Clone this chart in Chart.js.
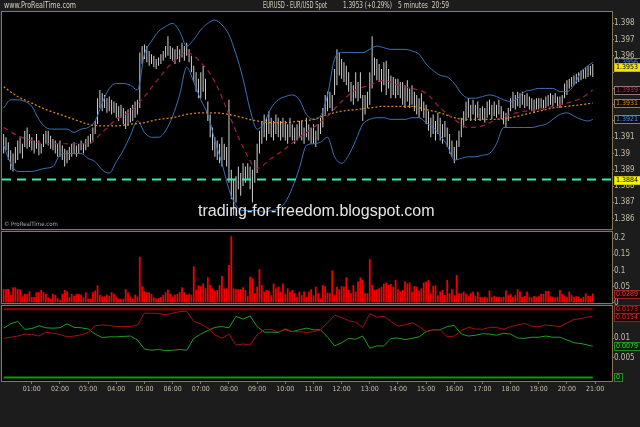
<!DOCTYPE html>
<html>
<head>
<meta charset="utf-8">
<script src="https://cdn.jsdelivr.net/npm/chart.js@4.4.1/dist/chart.umd.min.js"></script>
<style>
  body { margin: 0; background: #1c1c1c; }
  #wrap { position: relative; width: 640px; height: 427px; overflow: hidden; background: #1c1c1c;
          font-family: "Liberation Sans Narrow", "DejaVu Sans Condensed", sans-serif; }
  #wrap canvas { position: absolute; left: 0; top: 0; }
  .txt { position: absolute; top: 1px; white-space: pre; color: #d6cfbf; font-size: 8px; line-height: 10px;
         transform-origin: left top; }
  #mark { position: absolute; left: 198px; top: 203px; font: 16px "Liberation Sans", Arial, sans-serif;
          line-height: 16px; color: #e4e4e4; white-space: nowrap; }
  #copy { position: absolute; left: 4px; top: 220px; font-size: 6px; line-height: 8px; color: #a8a8a8; }
</style>
</head>
<body>
<div id="wrap">
  <canvas id="priceChart" width="640" height="427"></canvas>
  <canvas id="volChart" width="640" height="427"></canvas>
  <canvas id="dmiChart" width="640" height="427"></canvas>
  <div class="txt" style="left:4px" data-w="72">www.ProRealTime.com</div>
  <div class="txt" style="left:263px" data-w="64">EURUSD - EUR/USD Spot</div>
  <div class="txt" style="left:343px" data-w="49">1.3953 (+0.29%)</div>
  <div class="txt" style="left:398px" data-w="51">5 minutes  20:59</div>
  <div id="mark">trading-for-freedom.blogspot.com</div>
  <div id="copy">© ProRealTime.com</div>
</div>
<script>
// 5 minute bars from 00:00 to 20:55
const lows = [
  1.3900,1.3902,1.3896,1.3890,1.3889,1.3894,1.3896,1.3900,1.3897,1.3904,1.3903,1.3904,
  1.3902,1.3900,1.3903,1.3899,1.3900,1.3904,1.3906,1.3905,1.3903,1.3902,1.3900,1.3898,
  1.3898,1.3896,1.3892,1.3894,1.3896,1.3898,1.3900,1.3898,1.3900,1.3902,1.3900,1.3902,
  1.3904,1.3906,1.3908,1.3912,1.3918,1.3928,1.3926,1.3928,1.3925,1.3926,1.3924,1.3925,
  1.3922,1.3920,1.3922,1.3918,1.3915,1.3917,1.3919,1.3920,1.3922,1.3924,1.3928,1.3955,
  1.3958,1.3956,1.3954,1.3955,1.3953,1.3952,1.3954,1.3955,1.3957,1.3959,1.3960,1.3958,
  1.3957,1.3955,1.3958,1.3956,1.3959,1.3957,1.3960,1.3956,1.3950,1.3944,1.3938,1.3934,
  1.3934,1.3938,1.3933,1.3920,1.3910,1.3902,1.3898,1.3896,1.3894,1.3892,1.3896,1.3892,
  1.3882,1.3872,1.3862,1.3870,1.3878,1.3874,1.3880,1.3882,1.3884,1.3878,1.3870,1.3882,
  1.3888,1.3900,1.3906,1.3910,1.3908,1.3912,1.3910,1.3908,1.3912,1.3910,1.3908,1.3910,
  1.3908,1.3906,1.3910,1.3908,1.3906,1.3908,1.3910,1.3908,1.3906,1.3910,1.3908,1.3906,
  1.3906,1.3904,1.3908,1.3912,1.3916,1.3924,1.3926,1.3928,1.3926,1.3936,1.3942,1.3948,
  1.3946,1.3944,1.3942,1.3938,1.3932,1.3930,1.3934,1.3932,1.3934,1.3920,1.3924,1.3928,
  1.3930,1.3940,1.3948,1.3945,1.3944,1.3938,1.3942,1.3936,1.3940,1.3934,1.3936,1.3934,
  1.3936,1.3934,1.3930,1.3928,1.3932,1.3928,1.3930,1.3926,1.3924,1.3922,1.3926,1.3922,
  1.3918,1.3914,1.3910,1.3912,1.3908,1.3912,1.3908,1.3906,1.3910,1.3904,1.3900,1.3898,
  1.3894,1.3896,1.3904,1.3910,1.3916,1.3920,1.3922,1.3920,1.3924,1.3920,1.3922,1.3920,
  1.3921,1.3919,1.3922,1.3924,1.3921,1.3923,1.3922,1.3924,1.3921,1.3918,1.3916,1.3920,
  1.3926,1.3928,1.3927,1.3929,1.3928,1.3930,1.3928,1.3929,1.3927,1.3926,1.3925,1.3927,
  1.3927,1.3928,1.3927,1.3928,1.3929,1.3930,1.3929,1.3931,1.3929,1.3928,1.3930,1.3934,
  1.3936,1.3940,1.3941,1.3942,1.3943,1.3944,1.3945,1.3946,1.3946,1.3947,1.3948,1.3947
];
const highs = [
  1.3912,1.3910,1.3907,1.3902,1.3900,1.3904,1.3908,1.3910,1.3906,1.3914,1.3916,1.3912,
  1.3910,1.3908,1.3912,1.3908,1.3906,1.3912,1.3914,1.3914,1.3911,1.3909,1.3908,1.3906,
  1.3908,1.3905,1.3903,1.3902,1.3904,1.3906,1.3907,1.3905,1.3906,1.3908,1.3906,1.3909,
  1.3911,1.3912,1.3916,1.3920,1.3934,1.3939,1.3937,1.3936,1.3934,1.3935,1.3933,1.3932,
  1.3931,1.3929,1.3930,1.3928,1.3926,1.3927,1.3928,1.3930,1.3932,1.3933,1.3962,1.3966,
  1.3967,1.3966,1.3963,1.3961,1.3960,1.3958,1.3959,1.3961,1.3963,1.3966,1.3972,1.3966,
  1.3965,1.3964,1.3966,1.3964,1.3968,1.3966,1.3968,1.3964,1.3960,1.3954,1.3950,1.3946,
  1.3950,1.3954,1.3946,1.3932,1.3924,1.3916,1.3910,1.3908,1.3906,1.3910,1.3906,1.3904,
  1.3933,1.3890,1.3884,1.3886,1.3892,1.3888,1.3894,1.3892,1.3894,1.3892,1.3890,1.3896,
  1.3906,1.3914,1.3920,1.3924,1.3922,1.3926,1.3922,1.3920,1.3924,1.3922,1.3920,1.3922,
  1.3920,1.3918,1.3922,1.3918,1.3916,1.3918,1.3920,1.3920,1.3916,1.3922,1.3918,1.3916,
  1.3918,1.3914,1.3918,1.3922,1.3928,1.3936,1.3938,1.3938,1.3936,1.3952,1.3964,1.3962,
  1.3958,1.3956,1.3954,1.3950,1.3944,1.3942,1.3950,1.3944,1.3950,1.3936,1.3936,1.3938,
  1.3950,1.3972,1.3959,1.3958,1.3955,1.3952,1.3956,1.3957,1.3952,1.3948,1.3947,1.3946,
  1.3946,1.3944,1.3944,1.3942,1.3945,1.3940,1.3942,1.3938,1.3936,1.3934,1.3937,1.3932,
  1.3930,1.3926,1.3922,1.3924,1.3920,1.3925,1.3922,1.3918,1.3920,1.3916,1.3912,1.3908,
  1.3904,1.3908,1.3914,1.3922,1.3926,1.3932,1.3934,1.3930,1.3933,1.3930,1.3932,1.3928,
  1.3929,1.3928,1.3932,1.3933,1.3930,1.3932,1.3930,1.3933,1.3929,1.3926,1.3925,1.3928,
  1.3934,1.3938,1.3936,1.3938,1.3937,1.3938,1.3936,1.3937,1.3935,1.3934,1.3933,1.3934,
  1.3934,1.3934,1.3933,1.3935,1.3936,1.3937,1.3936,1.3937,1.3935,1.3935,1.3936,1.3943,
  1.3945,1.3946,1.3947,1.3948,1.3949,1.3950,1.3951,1.3952,1.3953,1.3954,1.3954,1.3955
];
const volumes = [
  0.043,0.043,0.043,0.025,0.048,0.048,0.043,0.041,0.020,0.028,0.028,0.036,
  0.018,0.018,0.033,0.033,0.040,0.033,0.028,0.017,0.013,0.028,0.025,0.015,
  0.010,0.028,0.040,0.036,0.018,0.028,0.022,0.028,0.028,0.025,0.017,0.033,
  0.013,0.013,0.033,0.038,0.054,0.025,0.020,0.020,0.025,0.022,0.033,0.028,
  0.020,0.013,0.013,0.013,0.043,0.033,0.020,0.013,0.025,0.020,0.142,0.051,
  0.036,0.033,0.033,0.028,0.017,0.013,0.015,0.018,0.025,0.033,0.041,0.028,
  0.020,0.025,0.028,0.033,0.048,0.033,0.025,0.028,0.025,0.113,0.041,0.054,
  0.052,0.060,0.045,0.079,0.055,0.045,0.038,0.040,0.055,0.083,0.045,0.045,
  0.117,0.206,0.045,0.042,0.042,0.042,0.048,0.040,0.021,0.081,0.076,0.030,
  0.050,0.104,0.055,0.035,0.040,0.038,0.024,0.060,0.045,0.050,0.035,0.060,
  0.028,0.045,0.035,0.040,0.030,0.019,0.035,0.024,0.035,0.019,0.035,0.042,
  0.024,0.050,0.030,0.014,0.055,0.052,0.032,0.030,0.100,0.024,0.050,0.042,
  0.052,0.050,0.079,0.040,0.030,0.055,0.035,0.066,0.079,0.071,0.030,0.030,
  0.135,0.055,0.040,0.042,0.045,0.050,0.060,0.063,0.055,0.058,0.050,0.071,
  0.042,0.035,0.040,0.066,0.060,0.063,0.035,0.052,0.050,0.038,0.045,0.063,
  0.066,0.071,0.030,0.052,0.055,0.024,0.035,0.040,0.024,0.071,0.030,0.042,
  0.024,0.086,0.030,0.030,0.035,0.028,0.021,0.030,0.035,0.021,0.035,0.019,
  0.017,0.019,0.017,0.038,0.019,0.021,0.019,0.019,0.017,0.019,0.038,0.024,
  0.028,0.019,0.024,0.042,0.035,0.019,0.021,0.035,0.019,0.017,0.021,0.019,
  0.021,0.028,0.028,0.037,0.037,0.021,0.019,0.017,0.019,0.040,0.028,0.021,
  0.019,0.035,0.024,0.019,0.021,0.019,0.014,0.019,0.030,0.021,0.021,0.0289
];

// bollinger bands and DMI lines, one reading per 15 minutes (last one at 20:55)
const upperBand = [
  1.3928,1.3933,1.3933,1.3932,1.3929,1.3921,1.3916,1.3915,1.3915,1.3915,
  1.3913,1.3915,1.3916,1.3920,1.3931,1.3940,1.3943,1.3943,1.3942,1.3939,
  1.3961,1.3969,1.3975,1.3978,1.3980,1.3975,1.3966,1.3970,1.3976,1.3980,
  1.3982,1.3979,1.3973,1.3961,1.3946,1.3927,1.3915,1.3919,1.3928,1.3933,
  1.3935,1.3936,1.3933,1.3924,1.3921,1.3923,1.3936,1.3958,1.3962,1.3962,
  1.3962,1.3962,1.3964,1.3966,1.3965,1.3964,1.3964,1.3964,1.3963,1.3961,
  1.3955,1.3951,1.3948,1.3947,1.3943,1.3937,1.3934,1.3934,1.3935,1.3936,
  1.3935,1.3933,1.3932,1.3934,1.3938,1.3939,1.3940,1.3940,1.3940,1.3938,
  1.3938,1.3942,1.3950,1.3954,1.3956
];
const lowerBand = [
  1.3905,1.3894,1.3889,1.3889,1.3889,1.3890,1.3891,1.3892,1.3899,1.3900,
  1.3900,1.3900,1.3897,1.3895,1.3890,1.3888,1.3895,1.3902,1.3911,1.3920,
  1.3913,1.3910,1.3910,1.3914,1.3923,1.3936,1.3953,1.3944,1.3933,1.3924,
  1.3908,1.3894,1.3878,1.3868,1.3865,1.3865,1.3865,1.3864,1.3865,1.3866,
  1.3870,1.3879,1.3891,1.3905,1.3906,1.3907,1.3910,1.3898,1.3894,1.3899,
  1.3908,1.3918,1.3921,1.3922,1.3922,1.3921,1.3921,1.3921,1.3922,1.3922,
  1.3919,1.3916,1.3911,1.3905,1.3896,1.3897,1.3898,1.3898,1.3899,1.3900,
  1.3906,1.3916,1.3916,1.3916,1.3916,1.3916,1.3917,1.3918,1.3921,1.3924,
  1.3925,1.3923,1.3921,1.3920,1.3921
];
const diPlus = [
  0.0099,0.0102,0.0105,0.0110,0.0109,0.0105,0.0115,0.0112,0.0109,0.0103,
  0.0105,0.0108,0.0114,0.0131,0.0133,0.0132,0.0129,0.0129,0.0129,0.0133,
  0.0163,0.0163,0.0162,0.0159,0.0163,0.0167,0.0168,0.0142,0.0136,0.0125,
  0.0108,0.0099,0.0110,0.0082,0.0085,0.0082,0.0108,0.0121,0.0122,0.0115,
  0.0121,0.0116,0.0116,0.0114,0.0116,0.0121,0.0139,0.0158,0.0152,0.0144,
  0.0140,0.0127,0.0162,0.0153,0.0155,0.0142,0.0130,0.0133,0.0139,0.0129,
  0.0116,0.0121,0.0121,0.0103,0.0105,0.0119,0.0127,0.0123,0.0122,0.0127,
  0.0127,0.0122,0.0129,0.0133,0.0137,0.0130,0.0129,0.0133,0.0131,0.0129,
  0.0138,0.0147,0.0149,0.0154,0.0154
];
const diMinus = [
  0.0125,0.0136,0.0142,0.0122,0.0124,0.0131,0.0126,0.0125,0.0126,0.0136,
  0.0127,0.0126,0.0123,0.0110,0.0101,0.0103,0.0103,0.0104,0.0105,0.0095,
  0.0072,0.0069,0.0071,0.0068,0.0069,0.0071,0.0069,0.0099,0.0110,0.0119,
  0.0127,0.0129,0.0126,0.0155,0.0148,0.0156,0.0129,0.0115,0.0115,0.0114,
  0.0123,0.0116,0.0121,0.0125,0.0121,0.0121,0.0102,0.0080,0.0088,0.0099,
  0.0097,0.0105,0.0074,0.0080,0.0080,0.0099,0.0100,0.0096,0.0099,0.0103,
  0.0116,0.0121,0.0121,0.0129,0.0132,0.0110,0.0105,0.0107,0.0111,0.0110,
  0.0107,0.0112,0.0110,0.0100,0.0099,0.0102,0.0102,0.0105,0.0102,0.0102,
  0.0095,0.0088,0.0086,0.0082,0.0079
];

// moving averages, one reading per 30 minutes (last one at 20:55)
const middleAvg = [
  1.3916,1.3911,1.3908,1.3906,1.3906,1.3906,1.3906,1.3913,1.3921,1.3926,
  1.3935,1.3946,1.3956,1.3962,1.3956,1.3944,1.3924,1.3904,1.3891,1.3897,
  1.3903,1.3910,1.3916,1.3923,1.3932,1.3939,1.3942,1.3945,1.3942,1.3940,
  1.3937,1.3928,1.3921,1.3916,1.3917,1.3921,1.3924,1.3926,1.3927,1.3929,
  1.3931,1.3934,1.3939
];
const slowAvg = [
  1.3941,1.3935,1.3931,1.3927,1.3924,1.3921,1.3918,1.3917,1.3917,1.3918,
  1.3919,1.3921,1.3922,1.3924,1.3925,1.3925,1.3924,1.3922,1.3920,1.3919,
  1.3919,1.3920,1.3921,1.3924,1.3926,1.3927,1.3928,1.3929,1.3929,1.3929,
  1.3927,1.3925,1.3922,1.3921,1.3921,1.3921,1.3922,1.3924,1.3926,1.3928,
  1.3929,1.3930,1.3931
];

const lastPrice = 1.3953;
const supportLevel = 1.3884;
const dmiTopLevel = 0.0173;

const hourLabels = ['01:00','02:00','03:00','04:00','05:00','06:00','07:00','08:00','09:00','10:00',
  '11:00','12:00','13:00','14:00','15:00','16:00','17:00','18:00','19:00','20:00','21:00'];
const priceTicks = [1.386,1.387,1.388,1.389,1.39,1.391,1.392,1.393,1.394,1.395,1.396,1.397,1.398];
const hiddenPriceTicks = [1.392,1.393,1.394,1.395];
const volTicks = [0, 0.05, 0.1, 0.15, 0.2];
const dmiTicks = [0.005, 0.01];

// x positions in minutes after midnight
const barTimes = lows.map((_, i) => i * 5);
const quarterTimes = upperBand.map((_, i) => i < upperBand.length - 1 ? i * 15 : 1255);
const halfTimes = middleAvg.map((_, i) => i < middleAvg.length - 1 ? i * 30 : 1255);
const xMin = -3.5, xMax = 1296;

const frameColor = '#857759';
const textColor = '#c4bca8';
const fontFamily = '"Liberation Sans Narrow", "DejaVu Sans Condensed", sans-serif';

// squeeze the header texts to the narrow width of the original
document.querySelectorAll('.txt').forEach(el => {
  const w = el.getBoundingClientRect().width;
  el.style.transform = 'scaleX(' + (Number(el.dataset.w) / w) + ')';
});

function points(times, values) {
  return times.map((t, i) => ({ x: t, y: values[i] }));
}

const panelPlugin = {
  id: 'panel',
  beforeDraw(chart) {
    const { ctx, chartArea: a } = chart;
    ctx.save();
    ctx.fillStyle = '#000';
    ctx.fillRect(a.left, a.top, a.right - a.left, a.bottom - a.top);
    ctx.restore();
  },
  afterDraw(chart, args, opts) {
    const { ctx, chartArea: a } = chart;
    const y = chart.scales.y;
    ctx.save();
    ctx.strokeStyle = frameColor;
    ctx.lineWidth = 1;
    ctx.strokeRect(a.left - 0.5, a.top - 0.5, a.right - a.left + 1, a.bottom - a.top + 1);
    ctx.font = '7px ' + fontFamily;
    ctx.textBaseline = 'middle';
    (opts.boxes || []).forEach(b => {
      const txt = b.value === 0 ? '0' : b.value.toFixed(4);
      const w = Math.ceil(ctx.measureText(txt).width) + 4;
      const py = Math.round(y.getPixelForValue(b.value));
      ctx.fillStyle = b.bg;
      ctx.fillRect(a.right + 2, py - 4, w, 9);
      ctx.strokeStyle = b.edge;
      ctx.strokeRect(a.right + 2.5, py - 3.5, w - 1, 8);
      ctx.fillStyle = b.fg;
      ctx.fillText(txt, a.right + 4, py + 0.5);
    });
    ctx.restore();
  }
};

function xAxis(show) {
  return {
    type: 'linear', min: xMin, max: xMax, offset: false, display: show,
    afterBuildTicks: s => { s.ticks = hourLabels.map((_, i) => ({ value: (i + 1) * 60 })); },
    afterFit: s => { if (show) s.height = 20; },
    ticks: { color: textColor, font: { family: fontFamily, size: 7 }, padding: 1, maxRotation: 0, autoSkip: false,
             callback: v => hourLabels[Math.round(v / 60) - 1] },
    grid: { drawOnChartArea: false, drawTicks: true, tickLength: 3, color: frameColor },
    border: { display: false }
  };
}

function yAxis(min, max, tickVals, fmt) {
  return {
    position: 'right', min: min, max: max,
    afterBuildTicks: s => { s.ticks = tickVals.map(v => ({ value: v })); },
    afterFit: s => { s.width = 28; },
    ticks: { color: textColor, font: { family: fontFamily, size: 8 }, padding: 0, callback: fmt },
    grid: { drawOnChartArea: false, drawTicks: true, tickLength: 2, color: frameColor },
    border: { display: false }
  };
}

function makeChart(id, padding, datasets, yScale, showX, boxes) {
  return new Chart(document.getElementById(id), {
    type: 'line',
    data: { datasets: datasets },
    options: {
      responsive: false,
      animation: false,
      events: [],
      layout: { padding: padding },
      scales: { x: xAxis(showX), y: yScale },
      plugins: { legend: { display: false }, tooltip: { enabled: false }, panel: { boxes: boxes } }
    },
    plugins: [panelPlugin]
  });
}

const lineStyle = { pointRadius: 0, borderWidth: 1, fill: false };

// price panel
makeChart('priceChart', { top: 12, bottom: 198, left: 2, right: 0 }, [
  { type: 'bar', data: barTimes.map((t, i) => ({ x: t, y: [lows[i], highs[i]] })),
    backgroundColor: '#cfcfcf', barThickness: 1, inflateAmount: 0, order: 10 },
  Object.assign({ data: points(quarterTimes, upperBand), borderColor: '#3d72b8', cubicInterpolationMode: 'monotone', order: 3 }, lineStyle),
  Object.assign({ data: points(quarterTimes, lowerBand), borderColor: '#3d72b8', cubicInterpolationMode: 'monotone', order: 3 }, lineStyle),
  Object.assign({}, lineStyle, { data: points(halfTimes, middleAvg), borderColor: '#a01e4c', borderDash: [5, 4], borderWidth: 1.2, cubicInterpolationMode: 'monotone', order: 2 }),
  Object.assign({}, lineStyle, { data: points(halfTimes, slowAvg), borderColor: '#d4861a', borderDash: [2, 2], borderWidth: 1.3, cubicInterpolationMode: 'monotone', order: 2 }),
  Object.assign({}, lineStyle, { data: [{ x: xMin, y: supportLevel }, { x: xMax, y: supportLevel }],
    borderColor: '#3ee6b8', borderWidth: 2, borderDash: [9, 6], order: 1 })
], yAxis(1.385365, 1.398694, priceTicks, v => hiddenPriceTicks.includes(v) ? '' : String(Number(v.toFixed(3)))), false, [
  { value: upperBand[upperBand.length - 1], bg: '#0c0c14', edge: '#8a8070', fg: '#4d8fe0' },
  { value: lastPrice, bg: '#f4e200', edge: '#c8b400', fg: '#000' },
  { value: middleAvg[middleAvg.length - 1], bg: '#12040a', edge: '#8a8070', fg: '#c8285e' },
  { value: slowAvg[slowAvg.length - 1], bg: '#100a02', edge: '#8a8070', fg: '#d89024' },
  { value: lowerBand[lowerBand.length - 1], bg: '#0c0c14', edge: '#8a8070', fg: '#4d8fe0' },
  { value: supportLevel, bg: '#f6f200', edge: '#c8c400', fg: '#000' }
]);

// volatility histogram
makeChart('volChart', { top: 232, bottom: 124, left: 2, right: 0 }, [
  { type: 'bar', data: points(barTimes, volumes), backgroundColor: '#f00000', barThickness: 1.8, inflateAmount: 0 }
], yAxis(-0.0003, 0.2188, volTicks, v => String(v)), false, [
  { value: volumes[volumes.length - 1], bg: '#200000', edge: '#a02424', fg: '#ff3030' }
]);

// DMI panel
makeChart('dmiChart', { top: 306, bottom: 26, left: 2, right: 0 }, [
  Object.assign({}, lineStyle, { data: [{ x: 0, y: dmiTopLevel }, { x: 1255, y: dmiTopLevel }], borderColor: '#9a0000', borderWidth: 2 }),
  Object.assign({}, lineStyle, { data: [{ x: 0, y: 0 }, { x: 1255, y: 0 }], borderColor: '#00a000', borderWidth: 2 }),
  Object.assign({ data: points(quarterTimes, diPlus), borderColor: '#a81010' }, lineStyle),
  Object.assign({ data: points(quarterTimes, diMinus), borderColor: '#1e9e1e' }, lineStyle)
], yAxis(-0.0009, 0.01812, dmiTicks, v => String(v)), true, [
  { value: dmiTopLevel, bg: '#200000', edge: '#8a2424', fg: '#e03030' },
  { value: diPlus[diPlus.length - 1], bg: '#200000', edge: '#8a2424', fg: '#e03030' },
  { value: diMinus[diMinus.length - 1], bg: '#002000', edge: '#248a24', fg: '#30e030' },
  { value: 0, bg: '#002000', edge: '#248a24', fg: '#30e030' }
]);
</script>
</body>
</html>
